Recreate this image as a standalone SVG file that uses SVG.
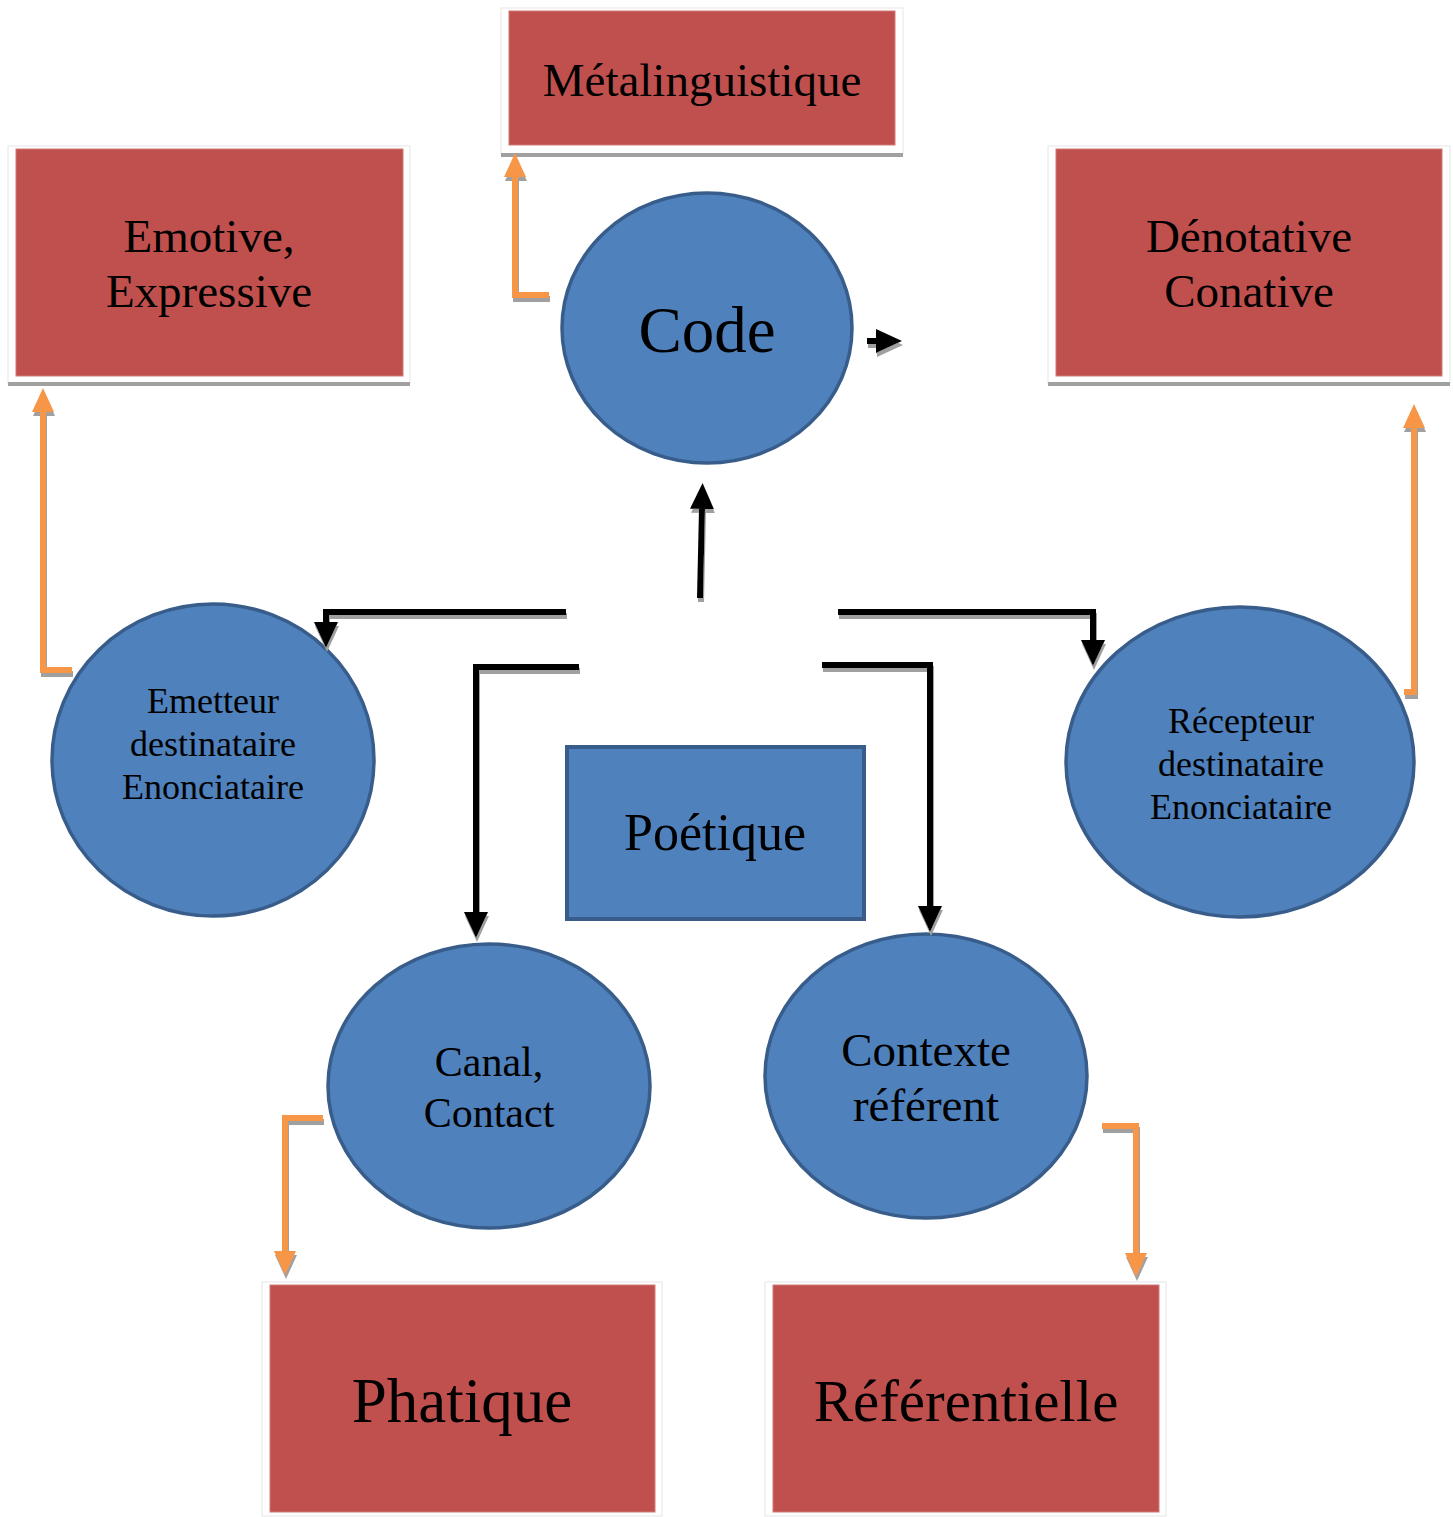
<svg xmlns="http://www.w3.org/2000/svg" width="1453" height="1517" viewBox="0 0 1453 1517">
<style>
.frame{fill:#fff;stroke:#e6e6e6;stroke-width:1}
.red{fill:#c0504d;stroke:#d27a77;stroke-width:1}
.base{fill:#a0a0a0}
.ell{fill:#4f81bd;stroke:#385d8a;stroke-width:3.5}
.poe{fill:#4f81bd;stroke:#385d8a;stroke-width:4}
text{font-family:"Liberation Serif","Times New Roman",serif;fill:#000;text-anchor:middle}
.blk{fill:none;stroke:#000;stroke-width:6;stroke-linejoin:miter}
.org{fill:none;stroke:#f79646;stroke-width:6;stroke-linejoin:miter}
</style>
<defs>
<marker id="ab" markerUnits="userSpaceOnUse" markerWidth="28" markerHeight="26" refX="0" refY="12" orient="auto"><path d="M0,0 L26,12 L0,24 z" fill="#000"/></marker>
<marker id="ao" markerUnits="userSpaceOnUse" markerWidth="26" markerHeight="24" refX="0" refY="11" orient="auto"><path d="M0,0 L24,11 L0,22 z" fill="#f79646"/></marker>
<filter id="sh" x="-20%" y="-20%" width="140%" height="140%"><feDropShadow dx="1" dy="4" stdDeviation="0" flood-color="#a0a0a0" flood-opacity="1"/></filter>
</defs>
<rect width="1453" height="1517" fill="#fff"/>

<g id="metalinguistique">
<rect class="frame" x="501" y="8" width="402" height="146"/>
<rect class="red" x="509" y="11" width="386" height="134"/>
<rect class="base" x="501" y="153" width="402" height="4"/>
<text x="702" y="96" font-size="47">Métalinguistique</text>
</g>

<g id="emotive">
<rect class="frame" x="8" y="146" width="402" height="237"/>
<rect class="red" x="16" y="149" width="387" height="227"/>
<rect class="base" x="8" y="382" width="402" height="4"/>
<text x="209" y="252" font-size="47">Emotive,</text>
<text x="209" y="307" font-size="47">Expressive</text>
</g>

<g id="denotative">
<rect class="frame" x="1048" y="146" width="402" height="237"/>
<rect class="red" x="1056" y="149" width="386" height="227"/>
<rect class="base" x="1048" y="382" width="402" height="4"/>
<text x="1249" y="252" font-size="47">Dénotative</text>
<text x="1249" y="307" font-size="47">Conative</text>
</g>

<g id="code">
<ellipse class="ell" cx="707" cy="328" rx="145" ry="135"/>
<text x="707" y="352" font-size="65">Code</text>
</g>

<g id="emetteur">
<ellipse class="ell" cx="213" cy="760" rx="161" ry="156"/>
<text x="213" y="713" font-size="36">Emetteur</text>
<text x="213" y="756" font-size="36">destinataire</text>
<text x="213" y="799" font-size="36">Enonciataire</text>
</g>

<g id="recepteur">
<ellipse class="ell" cx="1240" cy="762" rx="174" ry="155"/>
<text x="1241" y="733" font-size="36">Récepteur</text>
<text x="1241" y="776" font-size="36">destinataire</text>
<text x="1241" y="819" font-size="36">Enonciataire</text>
</g>

<g id="poetique">
<rect class="poe" x="567" y="747" width="297" height="172"/>
<text x="715" y="850" font-size="52">Poétique</text>
</g>

<g id="canal">
<ellipse class="ell" cx="489" cy="1086" rx="161" ry="142"/>
<text x="489" y="1076" font-size="42">Canal,</text>
<text x="489" y="1127" font-size="42">Contact</text>
</g>

<g id="contexte">
<ellipse class="ell" cx="926" cy="1076" rx="161" ry="142"/>
<text x="926" y="1066" font-size="47">Contexte</text>
<text x="926" y="1121" font-size="47">référent</text>
</g>

<g id="phatique">
<rect class="frame" x="262" y="1282" width="400" height="234"/>
<rect class="red" x="270" y="1285" width="385" height="227"/>
<text x="462" y="1422" font-size="63">Phatique</text>
</g>

<g id="referentielle">
<rect class="frame" x="765" y="1282" width="401" height="234"/>
<rect class="red" x="773" y="1285" width="386" height="227"/>
<text x="966" y="1421" font-size="59">Référentielle</text>
</g>

<g id="connectors" filter="url(#sh)">
<path class="blk" d="M867,341 H876" marker-end="url(#ab)"/>
<path class="blk" d="M700,598 L702,509" marker-end="url(#ab)"/>
<path class="blk" d="M566,612 H326 V622" marker-end="url(#ab)"/>
<path class="blk" d="M838,612 H1093 V640" marker-end="url(#ab)"/>
<path class="blk" d="M579,667 H476 V912" marker-end="url(#ab)"/>
<path class="blk" d="M822,665 H930 V906" marker-end="url(#ab)"/>
<path class="org" d="M549,295 H515 V177" marker-end="url(#ao)"/>
<path class="org" d="M72,670 H43 V412" marker-end="url(#ao)"/>
<path class="org" d="M1404,692 H1414 V428" marker-end="url(#ao)"/>
<path class="org" d="M323,1118 H285 V1251" marker-end="url(#ao)"/>
<path class="org" d="M1102,1126 H1136 V1253" marker-end="url(#ao)"/>
</g>
</svg>
